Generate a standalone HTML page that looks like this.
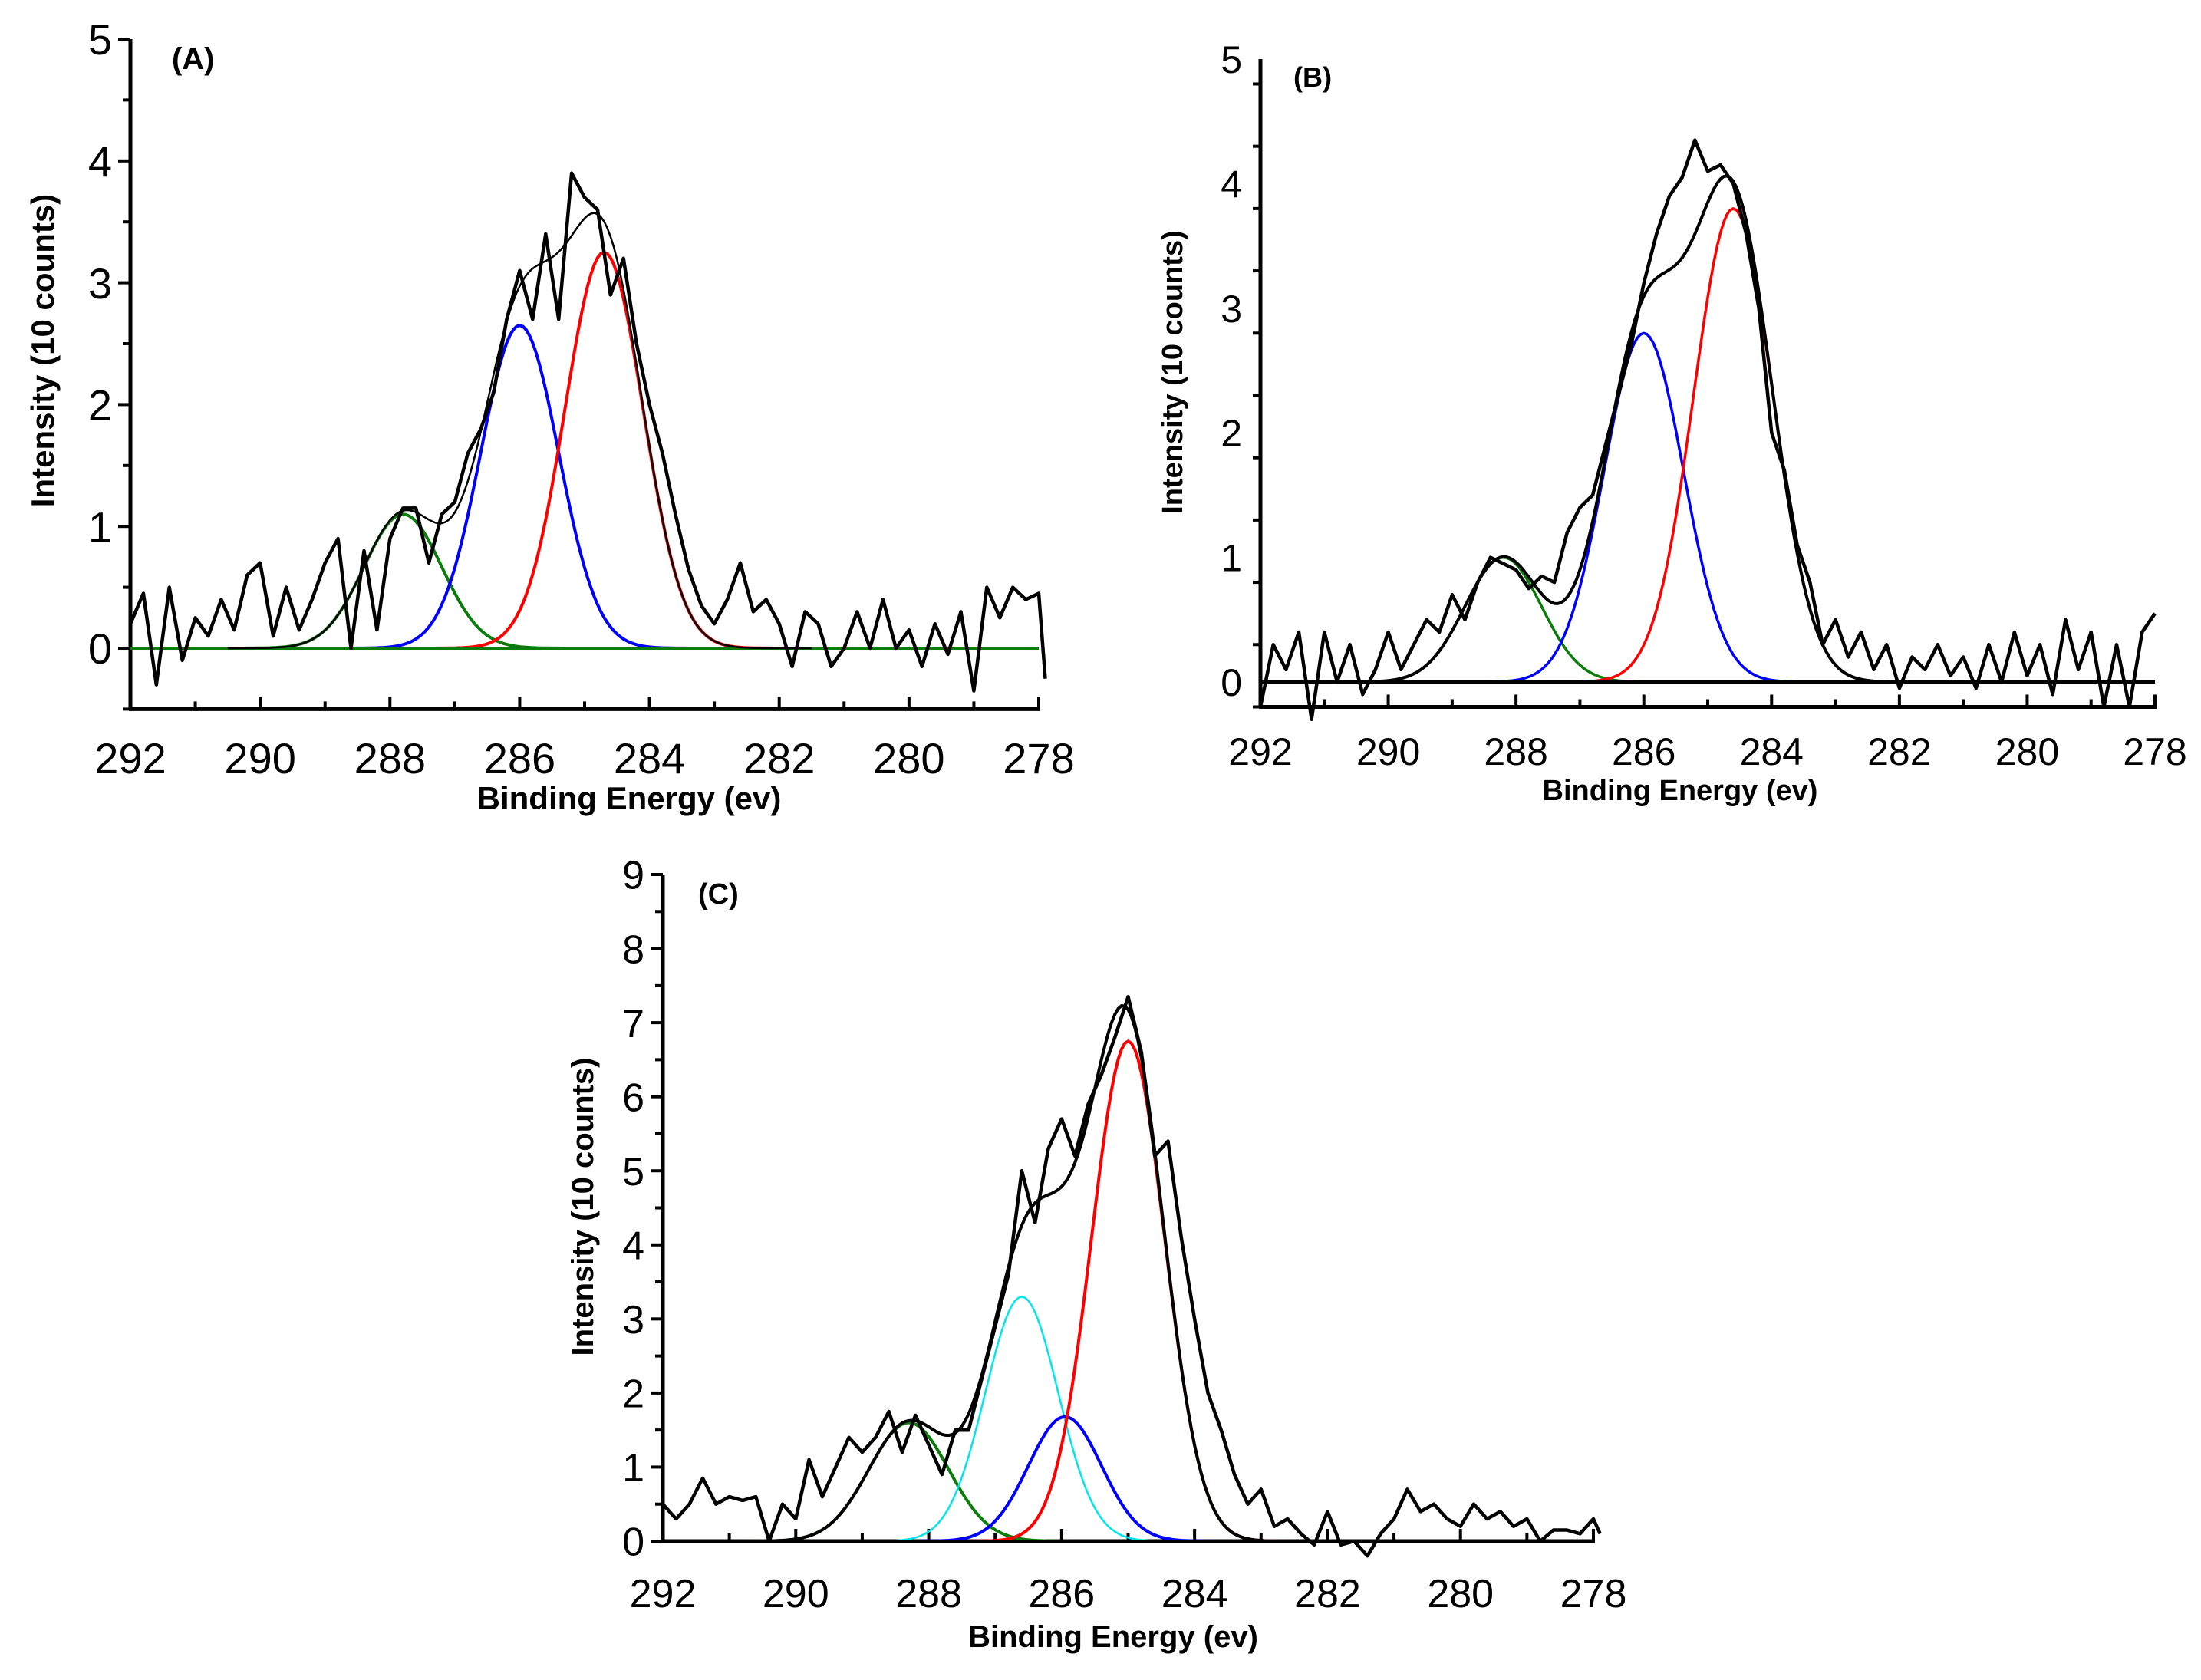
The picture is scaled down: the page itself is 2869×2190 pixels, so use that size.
<!DOCTYPE html>
<html><head><meta charset="utf-8"><style>
html,body{margin:0;padding:0;background:#fff;}
svg{display:block;font-family:"Liberation Sans",Arial,sans-serif;}
</style></head><body>
<svg id="fig" width="2869" height="2190" viewBox="0 0 2869 2190" xmlns="http://www.w3.org/2000/svg">
<rect width="2869" height="2190" fill="#fff"/>
</svg>
<script>
// ---- data ----
const energyA = [292.0,291.8,291.6,291.4,291.2,291.0,290.8,290.6,290.4,290.2,290.0,289.8,289.6,289.4,289.2,289.0,288.8,288.6,288.4,288.2,288.0,287.8,287.6,287.4,287.2,287.0,286.8,286.6,286.4,286.2,286.0,285.8,285.6,285.4,285.2,285.0,284.8,284.6,284.4,284.2,284.0,283.8,283.6,283.4,283.2,283.0,282.8,282.6,282.4,282.2,282.0,281.8,281.6,281.4,281.2,281.0,280.8,280.6,280.4,280.2,280.0,279.8,279.6,279.4,279.2,279.0,278.8,278.6,278.4,278.2,278.0,277.9];
const countsA = [0.2,0.45,-0.3,0.5,-0.1,0.25,0.1,0.4,0.15,0.6,0.7,0.1,0.5,0.15,0.4,0.7,0.9,0.0,0.8,0.15,0.9,1.15,1.15,0.7,1.1,1.2,1.6,1.8,2.1,2.7,3.1,2.7,3.4,2.7,3.9,3.7,3.6,2.9,3.2,2.5,2.0,1.6,1.1,0.65,0.35,0.2,0.4,0.7,0.3,0.4,0.2,-0.15,0.3,0.2,-0.15,0.0,0.3,0.0,0.4,0.0,0.15,-0.15,0.2,-0.05,0.3,-0.35,0.5,0.25,0.5,0.4,0.45,-0.25];
const peakCentersA = [287.8,286.0,284.7];
const peakHeightsA = [1.1,2.65,3.25];
const peakSigmasA = [0.6,0.6,0.6];

const energyB = [292.0,291.8,291.6,291.4,291.2,291.0,290.8,290.6,290.4,290.2,290.0,289.8,289.6,289.4,289.2,289.0,288.8,288.6,288.4,288.2,288.0,287.8,287.6,287.4,287.2,287.0,286.8,286.6,286.4,286.2,286.0,285.8,285.6,285.4,285.2,285.0,284.8,284.6,284.4,284.2,284.0,283.8,283.6,283.4,283.2,283.0,282.8,282.6,282.4,282.2,282.0,281.8,281.6,281.4,281.2,281.0,280.8,280.6,280.4,280.2,280.0,279.8,279.6,279.4,279.2,279.0,278.8,278.6,278.4,278.2,278.0];
const countsB = [-0.2,0.3,0.1,0.4,-0.3,0.4,0.0,0.3,-0.1,0.1,0.4,0.1,0.3,0.5,0.4,0.7,0.5,0.8,1.0,0.95,0.9,0.75,0.85,0.8,1.2,1.4,1.5,1.9,2.3,2.7,3.2,3.6,3.9,4.05,4.35,4.1,4.15,4.0,3.6,3.0,2.0,1.7,1.1,0.8,0.3,0.5,0.2,0.4,0.1,0.3,-0.05,0.2,0.1,0.3,0.05,0.2,-0.05,0.3,0.0,0.4,0.05,0.3,-0.1,0.5,0.1,0.4,-0.2,0.3,-0.2,0.4,0.55];
const peakCentersB = [288.2,286.0,284.6];
const peakHeightsB = [1.0,2.8,3.8];
const peakSigmasB = [0.6,0.62,0.62];

const energyC = [292.0,291.8,291.6,291.4,291.2,291.0,290.8,290.6,290.4,290.2,290.0,289.8,289.6,289.4,289.2,289.0,288.8,288.6,288.4,288.2,288.0,287.8,287.6,287.4,287.2,287.0,286.8,286.6,286.4,286.2,286.0,285.8,285.6,285.4,285.2,285.0,284.8,284.6,284.4,284.2,284.0,283.8,283.6,283.4,283.2,283.0,282.8,282.6,282.4,282.2,282.0,281.8,281.6,281.4,281.2,281.0,280.8,280.6,280.4,280.2,280.0,279.8,279.6,279.4,279.2,279.0,278.8,278.6,278.4,278.2,278.0,277.9];
const countsC = [0.5,0.3,0.5,0.85,0.5,0.6,0.55,0.6,0.0,0.5,0.3,1.1,0.6,1.0,1.4,1.2,1.4,1.75,1.2,1.7,1.3,0.9,1.5,1.5,2.2,2.9,3.6,5.0,4.3,5.3,5.7,5.2,5.9,6.3,6.8,7.35,6.6,5.2,5.4,4.1,3.0,2.0,1.5,0.9,0.5,0.7,0.2,0.3,0.1,-0.05,0.4,-0.05,0.0,-0.2,0.1,0.3,0.7,0.4,0.5,0.3,0.2,0.5,0.3,0.4,0.2,0.3,0.0,0.15,0.15,0.1,0.3,0.1];
const peakCentersC = [288.3,286.6,285.95,285.0];
const peakHeightsC = [1.6,3.3,1.68,6.75];
const peakSigmasC = [0.6,0.55,0.55,0.55];

const xTickLabels = ["292","290","288","286","284","282","280","278"];
const yTickLabelsA = ["0","1","2","3","4","5"];
const yTickLabelsB = ["0","1","2","3","4","5"];
const yTickLabelsC = ["0","1","2","3","4","5","6","7","8","9"];

// ---- drawing ----
const NS = "http://www.w3.org/2000/svg";
const svg = document.getElementById("fig");
function mk(tag, attrs, parent){
  const e = document.createElementNS(NS, tag);
  for (const k in attrs) e.setAttribute(k, attrs[k]);
  (parent||svg).appendChild(e);
  return e;
}
function gauss(x,c,h,s){ return h*Math.exp(-0.5*((x-c)/s)*((x-c)/s)); }

function panel(cfg){
  const g = mk("g", {});
  
  
  const xs = v => cfg.px0 + (292 - v) / 14 * (cfg.px1 - cfg.px0);
  const ys = v => cfg.py0 - v / cfg.ytop * (cfg.py0 - cfg.pytop);
  const bottom = ys(cfg.ymin);
  const ya = mk("line", {x1:xs(292), y1:ys(cfg.ytop), x2:xs(292), y2:bottom, stroke:"#000","stroke-width":5}, g);
  
  
  const xa = mk("line", {x1:xs(292)-2, y1:bottom, x2:xs(278)+2, y2:bottom, stroke:"#000","stroke-width":5}, g);
  
  
  for (let v = cfg.ymin; v <= cfg.ytop + 1e-9; v += 0.5){
    const major = Math.abs(v - Math.round(v)) < 1e-6;
    mk("line", {x1:xs(292), x2:xs(292)-(major?16:10), y1:ys(v), y2:ys(v), stroke:"#000","stroke-width":4}, g);
  }
  cfg.yLabels.forEach((lab,i)=>{
    const t = mk("text", {x:xs(292)-24, y:ys(+lab)+cfg.fs*0.36, "text-anchor":"end","font-size":cfg.fs}, g);
    t.textContent = lab;
    
    
  });
  for (let v = 292; v >= 278; v -= 1){
    const major = v % 2 === 0;
    mk("line", {x1:xs(v), x2:xs(v), y1:bottom, y2:bottom-(major?16:10), stroke:"#000","stroke-width":4}, g);
  }
  xTickLabels.forEach(lab=>{
    const t = mk("text", {x:xs(+lab), y:cfg.tickY, "text-anchor":"middle","font-size":cfg.fs}, g);
    t.textContent = lab;
    
    
  });
  const xt = mk("text", {x:cfg.xtX, y:cfg.xtY, "text-anchor":"middle","font-size":cfg.tfs,"font-weight":"bold"}, g);
  xt.textContent = "Binding Energy (ev)";
  
  
  const yt = mk("text", {x:0, y:0, "text-anchor":"middle","font-size":cfg.tfs,"font-weight":"bold", transform:`translate(${cfg.ytX},${cfg.ytY}) rotate(-90)`}, g);
  yt.textContent = "Intensity (10 counts)";
  
  
  const pl = mk("text", {x:cfg.lblX, y:cfg.lblY, "font-size":cfg.tfs*0.95,"font-weight":"bold"}, g);
  pl.textContent = cfg.label;
  
  
  // components
  cfg.centers.forEach((c,i)=>{
    let d = "";
    for (let x = 292; x >= 278 - 1e-9; x -= 0.05){
      d += (d ? "L" : "M") + xs(x).toFixed(1) + "," + ys(gauss(x,c,cfg.heights[i],cfg.sigmas[i])).toFixed(1);
    }
    const p = mk("path", {d, fill:"none", stroke:cfg.colors[i], "stroke-width":cfg.widths[i]}, g);
    
    
  });
  // zero baseline (over component tails)
  const zl = mk("line", {x1:xs(292), x2:xs(278), y1:ys(0), y2:ys(0), stroke:cfg.zeroColor,"stroke-width":4}, g);
  
  
  // envelope
  let de = "";
  for (let x = 290.5; x >= 281.5 - 1e-9; x -= 0.05){
    let s = 0;
    cfg.centers.forEach((c,i)=>{ s += gauss(x,c,cfg.heights[i],cfg.sigmas[i]); });
    de += (de ? "L" : "M") + xs(x).toFixed(1) + "," + ys(s).toFixed(1);
  }
  const env = mk("path", {d:de, fill:"none", stroke:"#000", "stroke-width":cfg.envW}, g);
  
  
  // raw data
  let dr = "";
  cfg.energy.forEach((e,i)=>{ dr += (i ? "L" : "M") + xs(e).toFixed(1) + "," + ys(cfg.counts[i]).toFixed(1); });
  const raw = mk("path", {d:dr, fill:"none", stroke:"#000", "stroke-width":4.5, "stroke-linejoin":"round"}, g);
  
  
}

panel({name:"panel-a", label:"(A)", px0:170, px1:1354, pytop:51, py0:845, ytop:5, ymin:-0.5,
  yLabels:yTickLabelsA, fs:56, tfs:42, tickY:1008, xtX:820, xtY:1055, ytX:70, ytY:457, lblX:224, lblY:90,
  zeroColor:"#0a7d0a", centers:peakCentersA, heights:peakHeightsA, sigmas:peakSigmasA,
  colors:["#0a7d0a","#0000ff","#ff0000"], widths:[4,4,4], envW:2.5, energy:energyA, counts:countsA});
panel({name:"panel-b", label:"(B)", px0:1643, px1:2809, pytop:77, py0:889, ytop:5, ymin:-0.2,
  yLabels:yTickLabelsB, fs:50, tfs:38, tickY:997, xtX:2190, xtY:1043, ytX:1541, ytY:485, lblX:1686, lblY:113,
  zeroColor:"#000", centers:peakCentersB, heights:peakHeightsB, sigmas:peakSigmasB,
  colors:["#0a7d0a","#0000ff","#ff0000"], widths:[3.5,3.5,3.5], envW:4, energy:energyB, counts:countsB});
panel({name:"panel-c", label:"(C)", px0:864, px1:2077, pytop:1140, py0:2009, ytop:9, ymin:0,
  yLabels:yTickLabelsC, fs:52, tfs:40, tickY:2095, xtX:1451, xtY:2147, ytX:773, ytY:1573, lblX:910, lblY:1178,
  zeroColor:"#000", centers:peakCentersC, heights:peakHeightsC, sigmas:peakSigmasC,
  colors:["#0a7d0a","#00e5ee","#0000ff","#ff0000"], widths:[4,2.5,4,4], envW:4, energy:energyC, counts:countsC});
</script>
</body></html>
